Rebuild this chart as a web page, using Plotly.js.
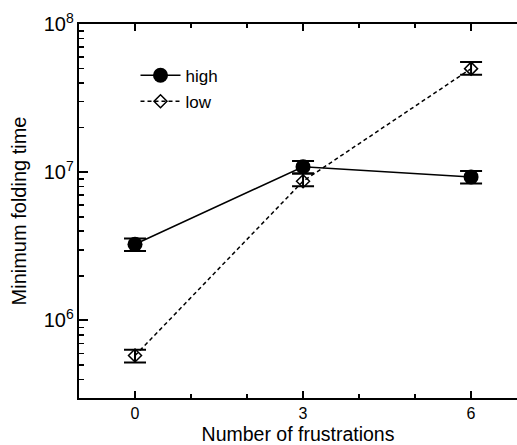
<!DOCTYPE html>
<html><head><meta charset="utf-8">
<script src="https://cdn.plot.ly/plotly-3.0.1.min.js"></script>
<style>html,body{margin:0;padding:0;overflow:hidden;background:#fff}</style>
</head><body>
<div id="chart" style="width:517px;height:445px"></div>
<script>
const frustrations = [0, 3, 6];
const highTime = [3.27e6, 1.09e7, 9.3e6];
const highErrUp = [0.30e6, 1.0e6, 0.9e6];
const highErrDown = [0.33e6, 1.1e6, 0.9e6];
const lowTime = [5.8e5, 8.7e6, 5.0e7];
const lowErrUp = [0.55e5, 1.1e6, 0.55e7];
const lowErrDown = [0.6e5, 0.65e6, 0.45e7];
const seriesNames = ['high', 'low'];

const font = 'Liberation Sans, Arial, Helvetica, sans-serif';

const traces = [
  {
    x: frustrations, y: highTime, name: seriesNames[0], legendgroup: 'a', mode: 'lines+markers', type: 'scatter',
    line: {color: '#000', width: 1.5},
    marker: {symbol: 'circle', size: 15, color: '#000'},
    error_y: {type: 'data', array: highErrUp, arrayminus: highErrDown, symmetric: false,
      color: '#000', thickness: 2, width: 11}
  },
  {
    x: frustrations, y: lowTime, name: seriesNames[1], legendgroup: 'b', mode: 'lines+markers', type: 'scatter',
    line: {color: '#000', width: 1.5, dash: '4px,3px'},
    marker: {symbol: 'diamond-open', size: 10, color: '#000', line: {width: 1.5, color: '#000'}},
    error_y: {type: 'data', array: lowErrUp, arrayminus: lowErrDown, symmetric: false,
      color: '#000', thickness: 2, width: 11}
  }
];

const layout = {
  width: 517, height: 445,
  margin: {l: 79, r: 0, t: 24, b: 47},
  paper_bgcolor: '#fff', plot_bgcolor: '#fff',
  font: {family: font, color: '#000', size: 14},
  showlegend: true,
  legend: {x: 0.129, y: 0.91, xanchor: 'left', yanchor: 'top', bgcolor: 'rgba(0,0,0,0)',
    font: {family: font, size: 17, color: '#000'}, traceorder: 'grouped', tracegroupgap: 1, itemwidth: 40},
  xaxis: {
    range: [-1, 6.82], zeroline: false, showgrid: false,
    showline: true, linecolor: '#000', linewidth: 2, mirror: 'ticks',
    ticks: 'inside', ticklen: 7, tickwidth: 2, tickcolor: '#000',
    tickvals: frustrations,
    tickfont: {family: font, size: 16},
    minor: {ticks: 'inside', ticklen: 4, tickwidth: 1.5, tickcolor: '#000', tick0: 0, dtick: 1},
    title: {text: 'Number of frustrations', font: {family: font, size: 19.5}, standoff: 6}
  },
  yaxis: {
    type: 'log', range: [Math.log10(3e5), 8], zeroline: false, showgrid: false,
    showline: true, linecolor: '#000', linewidth: 2,
    ticks: 'inside', ticklen: 9, tickwidth: 2, tickcolor: '#000',
    dtick: 1, exponentformat: 'power',
    tickfont: {family: font, size: 16},
    minor: {ticks: 'inside', ticklen: 5, tickwidth: 1.5, tickcolor: '#000', dtick: 'D1'},
    title: {text: 'Minimum folding time', font: {family: font, size: 20}, standoff: 12}
  }
};

Plotly.newPlot('chart', traces, layout, {displayModeBar: false, staticPlot: true});
</script>
</body></html>
